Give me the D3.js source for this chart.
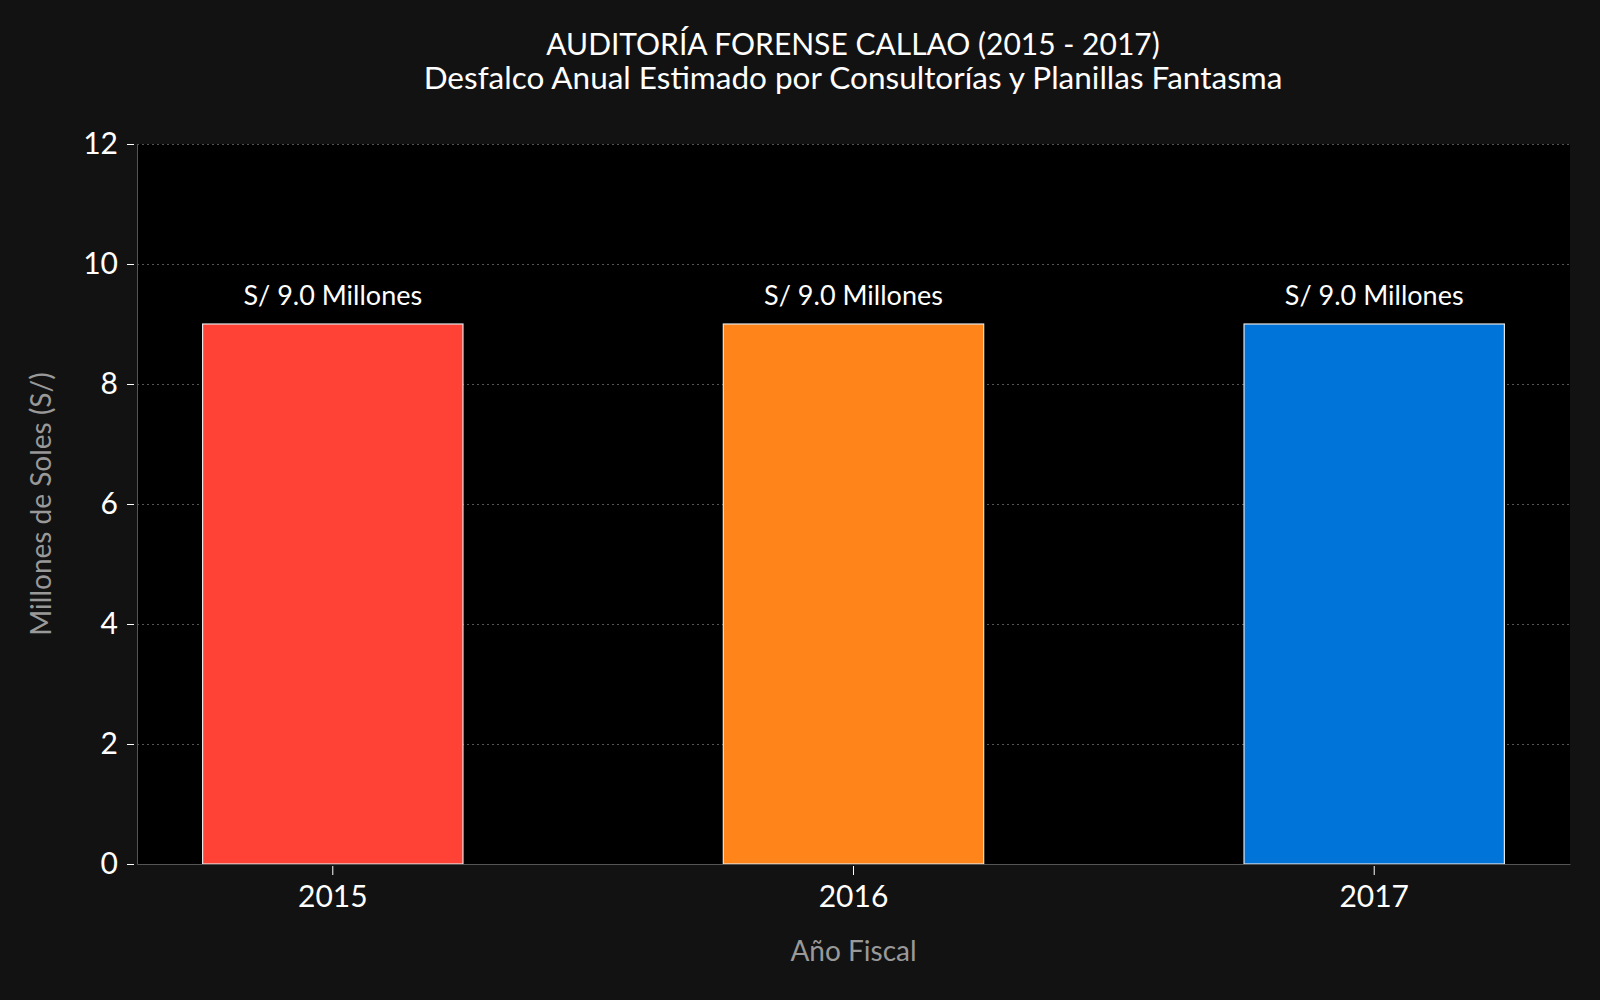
<!DOCTYPE html>
<html>
  <head>
    <meta charset="utf-8">
    <title>Auditoría Forense Callao</title>
    <style>
      body { margin: 0; background: #121212; }
      text { font-family: Lato, "Open Sans", sans-serif; }
      .axis path { stroke: #555; }
      .axis line { stroke: #fff; }
      .axis text { fill: #fff; font-size: 30px; }
      .grid line { stroke: #555; stroke-dasharray: 2,3; }
      .grid path { display: none; }
    </style>
    <script src="https://d3js.org/d3.v7.min.js"></script>
  </head>
  <body>
    <script>
      const years = ['2015', '2016', '2017'];
      const amounts = [9.0, 9.0, 9.0];
      const barColors = ['#FF4136', '#FF851B', '#0074D9'];
      const yTicks = [0, 2, 4, 6, 8, 10, 12];

      const width = 1600, height = 1000;
      const margin = { top: 144, right: 30, bottom: 136, left: 137 };
      const plotW = width - margin.left - margin.right;
      const plotH = height - margin.top - margin.bottom;

      const svg = d3.select('body').append('svg')
        .attr('width', width)
        .attr('height', height);

      svg.append('rect').attr('width', width).attr('height', height).attr('fill', '#121212');

      const g = svg.append('g').attr('transform', `translate(${margin.left},${margin.top})`);

      g.append('rect').attr('width', plotW).attr('height', plotH).attr('fill', '#000');

      const x = d3.scaleBand().domain(years).range([0, plotW]).paddingInner(0.5).paddingOuter(0.126);
      const y = d3.scaleLinear().domain([0, 12]).range([plotH, 0]);

      // grid
      g.append('g').attr('class', 'grid')
        .call(d3.axisLeft(y).tickValues(yTicks.slice(1)).tickSize(-plotW).tickFormat(''));

      // bars
      g.selectAll('.bar').data(years).enter().append('rect')
        .attr('class', 'bar')
        .attr('x', d => x(d))
        .attr('y', (d, i) => y(amounts[i]))
        .attr('width', x.bandwidth())
        .attr('height', (d, i) => plotH - y(amounts[i]))
        .attr('fill', (d, i) => barColors[i])
        .attr('stroke', '#e6e6e6')
        .attr('stroke-width', 1.2);

      g.selectAll('.lbl').data(years).enter().append('text')
        .attr('x', d => x(d) + x.bandwidth() / 2)
        .attr('y', (d, i) => y(amounts[i]) - 19)
        .attr('text-anchor', 'middle')
        .attr('fill', '#fff')
        .attr('font-size', 27)
        .text((d, i) => `S/ ${amounts[i].toFixed(1)} Millones`);

      // axes
      const yAxis = g.append('g').attr('class', 'axis')
        .call(d3.axisLeft(y).tickValues(yTicks).tickSize(7).tickPadding(12).tickSizeOuter(0));
      yAxis.selectAll('.tick line').attr('x2', -7).attr('transform', 'translate(-3,0)');

      const xAxis = g.append('g').attr('class', 'axis')
        .attr('transform', `translate(0,${plotH})`)
        .call(d3.axisBottom(x).tickSize(9).tickPadding(13).tickSizeOuter(0));
      xAxis.selectAll('.tick line').attr('transform', 'translate(0,2)');

      // titles
      svg.append('text').attr('x', 853).attr('y', 55).attr('text-anchor', 'middle')
        .attr('fill', '#fff').attr('font-size', 30)
        .text('AUDITORÍA FORENSE CALLAO (2015 - 2017)');
      svg.append('text').attr('x', 853).attr('y', 89).attr('text-anchor', 'middle')
        .attr('fill', '#fff').attr('font-size', 31.5)
        .text('Desfalco Anual Estimado por Consultorías y Planillas Fantasma');

      svg.append('text').attr('x', margin.left + plotW / 2).attr('y', 961).attr('text-anchor', 'middle')
        .attr('fill', '#999').attr('font-size', 28)
        .text('Año Fiscal');

      svg.append('text')
        .attr('transform', `translate(51,${margin.top + plotH / 2}) rotate(-90)`)
        .attr('text-anchor', 'middle')
        .attr('fill', '#999').attr('font-size', 28)
        .text('Millones de Soles (S/)');
    </script>
  </body>
</html>
